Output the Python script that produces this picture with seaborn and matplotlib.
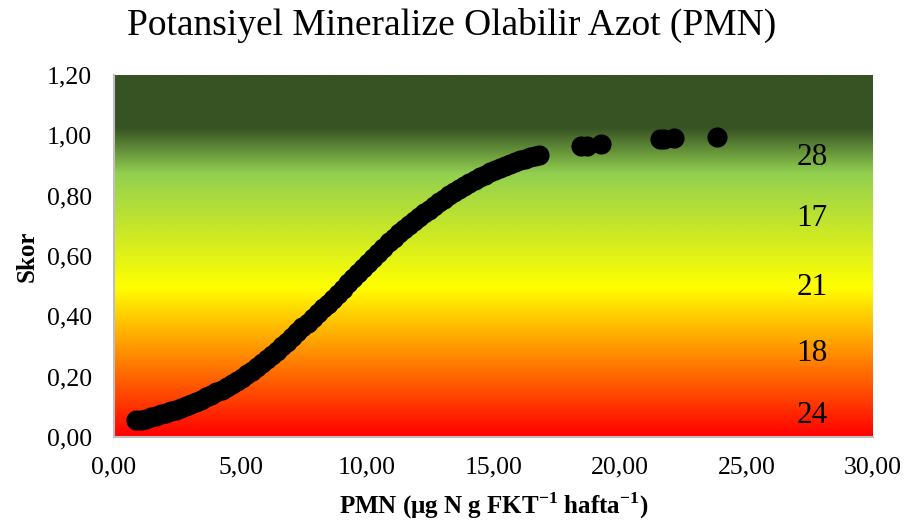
import numpy as np
import pandas as pd
import matplotlib
matplotlib.use("Agg")
import matplotlib.pyplot as plt
from matplotlib.colors import LinearSegmentedColormap
from matplotlib.ticker import FuncFormatter, MultipleLocator
import seaborn as sns

# PMN measurements and their scores
pmn = [0.86, 1.05, 1.25, 1.45, 1.65, 1.85, 2.05, 2.25, 2.45, 2.65, 2.85, 3.05,
       3.25, 3.45, 3.65, 3.85, 4.05, 4.25, 4.45, 4.65, 4.85, 5.05, 5.25, 5.45,
       5.65, 5.85, 6.05, 6.25, 6.45, 6.65, 6.85, 7.05, 7.25, 7.45, 7.65, 7.85,
       8.05, 8.25, 8.45, 8.65, 8.85, 9.05, 9.25, 9.45, 9.65, 9.85, 10.05, 10.25,
       10.45, 10.65, 10.85, 11.05, 11.25, 11.45, 11.65, 11.85, 12.05, 12.25,
       12.45, 12.65, 12.85, 13.05, 13.25, 13.45, 13.65, 13.85, 14.05, 14.25,
       14.45, 14.65, 14.85, 15.05, 15.25, 15.45, 15.65, 15.85, 16.05, 16.25,
       16.45, 16.65, 16.80, 18.45, 18.70, 19.25, 21.60, 21.75, 22.15, 23.85]
skor = [0.055, 0.058, 0.061, 0.065, 0.070, 0.075, 0.080, 0.085, 0.091, 0.097,
        0.103, 0.110, 0.117, 0.124, 0.132, 0.140, 0.148, 0.157, 0.166, 0.176,
        0.186, 0.197, 0.208, 0.220, 0.232, 0.245, 0.258, 0.272, 0.286, 0.301,
        0.316, 0.331, 0.347, 0.363, 0.379, 0.394, 0.410, 0.426, 0.442, 0.458,
        0.475, 0.492, 0.509, 0.526, 0.543, 0.560, 0.577, 0.594, 0.611, 0.628,
        0.645, 0.661, 0.676, 0.690, 0.703, 0.716, 0.729, 0.742, 0.754, 0.766,
        0.778, 0.790, 0.801, 0.812, 0.823, 0.833, 0.843, 0.852, 0.861, 0.869,
        0.877, 0.885, 0.892, 0.899, 0.905, 0.911, 0.917, 0.922, 0.927, 0.931,
        0.935, 0.963, 0.965, 0.970, 0.988, 0.989, 0.990, 0.994]

# Number of samples falling in each score class (bottom to top)
class_counts = ["24", "18", "21", "17", "28"]
class_label_y = [0.070, 0.278, 0.497, 0.723, 0.928]

title = "Potansiyel Mineralize Olabilir Azot (PMN)"
xlabel = r"PMN (μg N g FKT$^{\mathbf{-1}}$ hafta$^{\mathbf{-1}}$)"
ylabel = "Skor"

df = pd.DataFrame({"PMN": pmn, "Skor": skor})

sns.set_theme(style="white")
plt.rcParams["font.family"] = ["Liberation Serif", "DejaVu Serif"]
plt.rcParams["mathtext.fontset"] = "custom"
plt.rcParams["mathtext.rm"] = "Liberation Serif"
plt.rcParams["mathtext.bf"] = "Liberation Serif:bold"
plt.rcParams["text.color"] = "black"
plt.rcParams["axes.labelcolor"] = "black"

fig = plt.figure(figsize=(9.09, 5.28), dpi=100)
ax = fig.add_axes([114 / 909, 1 - 437 / 528, (873 - 114) / 909, (437 - 75) / 528])

# Background: red -> yellow -> light green -> dark green from bottom to top
grad_cmap = LinearSegmentedColormap.from_list(
    "skor_bg",
    [(0.0, "#FF0000"), (0.414, "#FFFF00"), (0.729, "#92D050"),
     (0.855, "#375323"), (1.0, "#375323")],
)
grad = np.linspace(0, 1, 512).reshape(-1, 1)
ax.imshow(grad, cmap=grad_cmap, origin="lower", aspect="auto",
          extent=[0, 30, 0, 1.2], zorder=0, interpolation="bilinear")

sns.scatterplot(data=df, x="PMN", y="Skor", ax=ax, color="black",
                s=210, linewidth=0, zorder=3, legend=False)

for txt, yv in zip(class_counts, class_label_y):
    ax.text(27.6, yv, txt, fontsize=22.5, ha="center", va="center",
            color="black", zorder=4)

ax.set_xlim(0, 30)
ax.set_ylim(0, 1.2)
ax.xaxis.set_major_locator(MultipleLocator(5))
ax.yaxis.set_major_locator(MultipleLocator(0.2))
comma = FuncFormatter(lambda v, p: f"{v:.2f}".replace(".", ","))
ax.xaxis.set_major_formatter(comma)
ax.yaxis.set_major_formatter(comma)
ax.tick_params(axis="both", labelsize=18.5, length=0, colors="black")
ax.tick_params(axis="y", pad=16)
ax.tick_params(axis="x", pad=14)

for side in ["top", "right"]:
    ax.spines[side].set_visible(False)
for side in ["left", "bottom"]:
    ax.spines[side].set_color("#BFBFBF")
    ax.spines[side].set_linewidth(1.5)
    ax.spines[side].set_zorder(5)

ax.set_xlabel(xlabel, fontsize=18, fontweight="bold", labelpad=9)
ax.set_ylabel(ylabel, fontsize=18, fontweight="bold", labelpad=6)
fig.suptitle(title, fontsize=27, x=0.497, y=0.985, va="top", color="black")

fig.savefig("out.png", dpi=100)
